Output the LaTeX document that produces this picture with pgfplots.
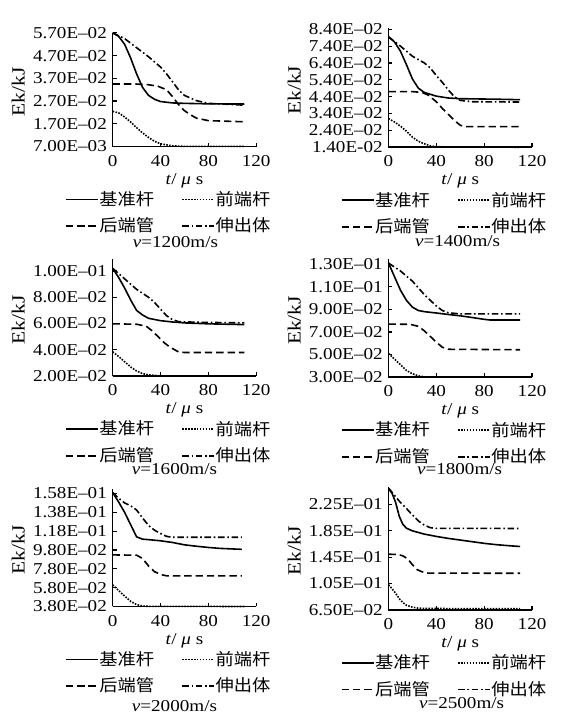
\documentclass[border=0pt]{standalone}
\usepackage{fontspec}
\setmainfont{Liberation Serif}[FakeStretch=1.15]
\newfontfamily\cjk{Noto Sans CJK SC}[FakeStretch=1.1]
\usepackage{pgfplots}
\pgfplotsset{compat=1.18}

\pgfplotsset{
  ekpanel/.style={
    scale only axis, width=108pt,
    axis lines=left, axis line style={-, line width=1.1pt},
    xmin=0, xmax=120, xtick={0,40,80,120}, xticklabels={0,40,80,120},
    xticklabel style={yshift=-2pt},
    tick align=inside, major tick length=3pt,
    tick style={line width=0.9pt, black},
    scaled y ticks=false, clip=false,
    xlabel={\textit{t}/ \textit{μ} s},
    xlabel style={inner sep=1pt},
    ylabel={Ek/kJ},
    ylabel style={at={(axis description cs:-0.6,0.48)}, anchor=south, inner sep=1pt,
      font=\fontsize{14pt}{16pt}\selectfont},
    every axis plot/.append style={line width=1.2pt, black},
    legend columns=2,
    legend image code/.code={\draw[##1, line width=1.25pt] (0pt,0pt) -- (24pt,0pt);},
    legend style={draw=none, fill=none, at={(0,0)}, anchor=north west,
      xshift=-36pt, yshift=-33pt, inner sep=0pt, row sep=6.5pt,
      nodes={inner sep=0.5pt},
      /tikz/every even column/.append style={column sep=20pt}},
    legend cell align=left,
  },
  jz/.style={solid},
  qd/.style={densely dotted},
  hd/.style={dash pattern=on 5.5pt off 3pt},
  sc/.style={dash pattern=on 5pt off 2pt on 1.2pt off 2pt},
}
\newcommand{\legs}{%
  \addlegendentry{\cjk 基准杆}\addlegendentry{\cjk 前端杆}%
  \addlegendentry{\cjk 后端管}\addlegendentry{\cjk 伸出体}}

\begin{document}
\fontsize{12.5pt}{15pt}\selectfont
\begin{tikzpicture}
\path (0,0) rectangle (424.5pt,-537.75pt);

% v=1200
\begin{axis}[ekpanel, at={(84.75pt,-110.25pt)}, height=85.5pt,
  ymin=0.007, ymax=0.057,
  ytick={0.007,0.017,0.027,0.037,0.047,0.057},
  yticklabels={7.00E–03,1.70E–02,2.70E–02,3.70E–02,4.70E–02,5.70E–02}]
\addplot[jz] coordinates {(0,0.057)(5,0.0555)(10,0.052)(15,0.046)(20,0.039)(25,0.033)(30,0.0295)(35,0.0278)(40,0.0268)(50,0.0262)(60,0.026)(80,0.0258)(110,0.0257)};
\addplot[qd] coordinates {(0,0.0225)(5,0.0218)(10,0.0200)(15,0.0178)(20,0.0153)(25,0.013)(30,0.011)(35,0.0093)(40,0.0082)(50,0.0073)(60,0.0071)(110,0.0071)};
\addplot[hd] coordinates {(0,0.0345)(20,0.0345)(30,0.0342)(38,0.0335)(45,0.032)(50,0.029)(55,0.0255)(60,0.0228)(65,0.021)(70,0.0195)(80,0.0184)(110,0.0179)};
\addplot[sc] coordinates {(0,0.057)(10,0.0545)(20,0.0505)(30,0.0465)(40,0.042)(45,0.039)(50,0.0355)(55,0.032)(60,0.0295)(70,0.0272)(80,0.026)(100,0.0255)(110,0.0252)};
\legs
\end{axis}

% v=1400
\begin{axis}[ekpanel, at={(292.25pt,-110.75pt)}, height=89.5pt,
  ymin=0.014, ymax=0.0846,
  ytick={0.014,0.024,0.034,0.044,0.054,0.064,0.074,0.084},
  yticklabels={1.40E-02,2.40E–02,3.40E–02,4.40E–02,5.40E–02,6.40E–02,7.40E–02,8.40E–02}]
\addplot[jz] coordinates {(0,0.0795)(5,0.0765)(10,0.071)(15,0.063)(20,0.0545)(25,0.049)(30,0.0465)(40,0.0443)(50,0.0432)(60,0.0428)(90,0.0425)(110,0.0422)};
\addplot[qd] coordinates {(0,0.031)(5,0.029)(10,0.0265)(15,0.0235)(20,0.020)(25,0.0175)(30,0.016)(35,0.0148)(40,0.0143)(60,0.0141)(110,0.014)};
\addplot[hd] coordinates {(0,0.047)(20,0.047)(28,0.0465)(33,0.045)(40,0.041)(45,0.037)(50,0.0335)(55,0.030)(60,0.027)(65,0.0262)(110,0.0262)};
\addplot[sc] coordinates {(0,0.0795)(10,0.074)(20,0.068)(30,0.064)(35,0.061)(40,0.0565)(45,0.0525)(50,0.048)(55,0.044)(60,0.0418)(70,0.041)(110,0.0408)};
\legs
\end{axis}

% v=1600
\begin{axis}[ekpanel, at={(84.75pt,-283pt)}, height=88pt,
  ymin=0.02, ymax=0.1089,
  ytick={0.02,0.04,0.06,0.08,0.1},
  yticklabels={2.00E–02,4.00E–02,6.00E–02,8.00E–02,1.00E–01}]
\addplot[jz] coordinates {(0,0.102)(5,0.095)(10,0.087)(15,0.078)(20,0.070)(25,0.0665)(30,0.064)(40,0.0622)(50,0.0612)(60,0.0605)(80,0.0598)(110,0.0592)};
\addplot[qd] coordinates {(0,0.0385)(5,0.035)(10,0.031)(15,0.027)(20,0.024)(25,0.022)(30,0.021)(40,0.0202)(110,0.0200)};
\addplot[hd] coordinates {(0,0.0598)(20,0.0595)(28,0.058)(33,0.0545)(38,0.050)(43,0.0455)(48,0.042)(55,0.0385)(60,0.038)(110,0.038)};
\addplot[sc] coordinates {(0,0.102)(10,0.094)(20,0.086)(30,0.080)(35,0.076)(40,0.071)(45,0.066)(50,0.063)(55,0.0615)(70,0.061)(110,0.0605)};
\legs
\end{axis}

% v=1800
\begin{axis}[ekpanel, at={(292.25pt,-283.75pt)}, height=88.75pt,
  ymin=0.03, ymax=0.1344,
  ytick={0.03,0.05,0.07,0.09,0.11,0.13},
  yticklabels={3.00E–02,5.00E–02,7.00E–02,9.00E–02,1.10E–01,1.30E–01}]
\addplot[jz] coordinates {(0,0.131)(5,0.119)(10,0.107)(15,0.098)(20,0.092)(25,0.089)(30,0.088)(40,0.0868)(50,0.0855)(60,0.0843)(70,0.0828)(80,0.0812)(85,0.0806)(110,0.0806)};
\addplot[qd] coordinates {(0,0.051)(5,0.046)(10,0.041)(15,0.036)(20,0.033)(25,0.0312)(30,0.0303)(40,0.030)(110,0.030)};
\addplot[hd] coordinates {(0,0.077)(18,0.0768)(25,0.075)(30,0.071)(35,0.066)(40,0.061)(45,0.0565)(50,0.0547)(110,0.0543)};
\addplot[sc] coordinates {(0,0.131)(10,0.124)(20,0.115)(30,0.103)(40,0.093)(45,0.089)(50,0.087)(60,0.086)(110,0.086)};
\legs
\end{axis}

% v=2000
\begin{axis}[ekpanel, at={(84.75pt,-456.25pt)}, height=88.75pt,
  ymin=0.038, ymax=0.1633,
  ytick={0.038,0.058,0.078,0.098,0.118,0.138,0.158},
  yticklabels={3.80E–02,5.80E–02,7.80E–02,9.80E–02,1.18E–01,1.38E–01,1.58E–01}]
\addplot[jz] coordinates {(0,0.159)(5,0.149)(10,0.138)(15,0.125)(20,0.112)(25,0.1095)(30,0.109)(40,0.1078)(50,0.106)(60,0.1035)(70,0.102)(80,0.1007)(90,0.0997)(108,0.0987)};
\addplot[qd] coordinates {(0,0.061)(5,0.055)(10,0.049)(15,0.0435)(20,0.040)(25,0.0385)(30,0.0382)(110,0.038)};
\addplot[hd] coordinates {(0,0.0928)(20,0.0925)(25,0.089)(30,0.081)(35,0.075)(40,0.072)(45,0.0706)(108,0.0705)};
\addplot[sc] coordinates {(0,0.159)(5,0.153)(10,0.148)(15,0.145)(20,0.1405)(25,0.132)(30,0.124)(35,0.119)(40,0.1155)(45,0.1125)(50,0.1115)(108,0.1115)};
\legs
\end{axis}

% v=2500
\begin{axis}[ekpanel, at={(292.25pt,-458.75pt)}, height=92.5pt,
  ymin=0.065, ymax=0.2518,
  ytick={0.065,0.105,0.145,0.185,0.225},
  yticklabels={6.50E–02,1.05E–01,1.45E–01,1.85E–01,2.25E–01}]
\addplot[jz] coordinates {(0,0.249)(3,0.242)(6,0.228)(9,0.207)(12,0.195)(15,0.189)(20,0.185)(30,0.180)(40,0.1765)(50,0.1735)(60,0.171)(70,0.1685)(80,0.166)(90,0.164)(100,0.1625)(110,0.1612)};
\addplot[qd] coordinates {(0,0.103)(3,0.097)(6,0.090)(9,0.082)(12,0.076)(15,0.072)(20,0.069)(25,0.0675)(30,0.067)(110,0.0667)};
\addplot[hd] coordinates {(0,0.1495)(8,0.149)(12,0.147)(16,0.1425)(20,0.1335)(24,0.126)(28,0.1228)(33,0.1208)(110,0.1205)};
\addplot[sc] coordinates {(0,0.25)(5,0.239)(10,0.228)(15,0.219)(20,0.209)(25,0.200)(30,0.1935)(35,0.1898)(40,0.1887)(110,0.1886)};
\legs
\end{axis}

\node at (132pt,-182.25pt) {\textit{v}=1200m/s};
\node at (344.25pt,-181.5pt) {\textit{v}=1400m/s};
\node at (131.25pt,-352.5pt) {\textit{v}=1600m/s};
\node at (345.75pt,-352.5pt) {\textit{v}=1800m/s};
\node at (131.25pt,-531pt) {\textit{v}=2000m/s};
\node at (347.25pt,-528.75pt) {\textit{v}=2500m/s};
\end{tikzpicture}
\end{document}
